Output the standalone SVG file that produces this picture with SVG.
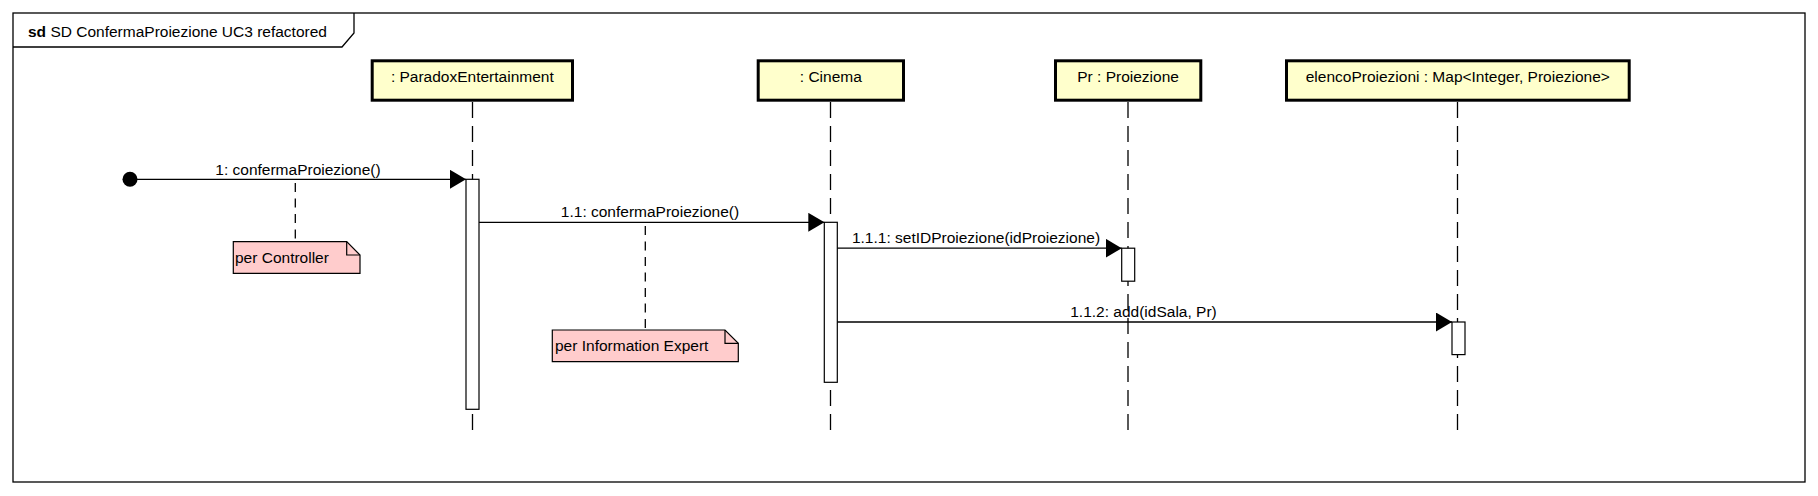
<svg xmlns="http://www.w3.org/2000/svg" width="1818" height="496" viewBox="0 0 1818 496">
<defs>
<style>
text{font-family:"Liberation Sans",Arial,sans-serif;font-size:15.5px;fill:#000}
.part rect{fill:#FFFFCC;stroke:#000;stroke-width:3}
.life{stroke:#000;stroke-width:1.3;stroke-dasharray:16 8;fill:none}
.act{fill:#fff;stroke:#000;stroke-width:1.2}
.msg{stroke:#000;stroke-width:1.3;fill:none}
.ncon{stroke:#000;stroke-width:1.3;stroke-dasharray:9 6.5;fill:none}
.note path{fill:#FFCCCC;stroke:#000;stroke-width:1.2}
.note .fold{fill:none}
.mid{text-anchor:middle}
</style>
<marker id="ah" viewBox="0 0 16 19" refX="16" refY="9.5" markerWidth="16" markerHeight="19" markerUnits="userSpaceOnUse" orient="auto">
<path d="M0,0 L16,9.5 L0,19 Z" fill="#000"/>
</marker>
</defs>
<rect width="1818" height="496" fill="#fff"/>
<g id="frame">
<rect x="13" y="13" width="1792" height="469" fill="none" stroke="#000" stroke-width="1.3"/>
<path d="M13,47 H342 L354,33 V13" fill="none" stroke="#000" stroke-width="1.3"/>
<text x="28" y="37"><tspan font-weight="bold">sd</tspan> SD ConfermaProiezione UC3 refactored</text>
</g>
<g id="lifelines">
<line class="life" x1="472.5" y1="102" x2="472.5" y2="438"/>
<line class="life" x1="830.5" y1="102" x2="830.5" y2="438"/>
<line class="life" x1="1128" y1="102" x2="1128" y2="438"/>
<line class="life" x1="1457.5" y1="102" x2="1457.5" y2="438"/>
</g>
<g id="p-paradox" class="part">
<rect x="372.2" y="60.8" width="200.3" height="39.4"/>
<text class="mid" x="472.3" y="82">: ParadoxEntertainment</text>
</g>
<g id="p-cinema" class="part">
<rect x="758.2" y="60.8" width="145.3" height="39.4"/>
<text class="mid" x="830.8" y="82">: Cinema</text>
</g>
<g id="p-proiezione" class="part">
<rect x="1055.5" y="60.8" width="145.3" height="39.4"/>
<text class="mid" x="1128.1" y="82">Pr : Proiezione</text>
</g>
<g id="p-elenco" class="part">
<rect x="1286.5" y="60.8" width="342.7" height="39.4"/>
<text class="mid" x="1457.8" y="82">elencoProiezioni : Map&lt;Integer, Proiezione&gt;</text>
</g>
<g id="activations">
<rect class="act" x="466" y="179.3" width="13" height="230"/>
<rect class="act" x="824.3" y="222.3" width="13" height="160"/>
<rect class="act" x="1121.7" y="248.2" width="13" height="33"/>
<rect class="act" x="1452" y="322" width="13" height="32.6"/>
</g>
<g id="connectors">
<circle cx="130" cy="179.3" r="7.5" fill="#000"/>
<line class="msg" x1="130" y1="179.3" x2="466" y2="179.3" marker-end="url(#ah)"/>
<text class="mid" x="298" y="174.5">1: confermaProiezione()</text>
<line class="msg" x1="479" y1="222.3" x2="824.3" y2="222.3" marker-end="url(#ah)"/>
<text class="mid" x="650" y="217.3">1.1: confermaProiezione()</text>
<line class="msg" x1="837.3" y1="248.2" x2="1121.7" y2="248.2" marker-end="url(#ah)"/>
<text class="mid" x="976" y="243">1.1.1: setIDProiezione(idProiezione)</text>
<line class="msg" x1="837.3" y1="322" x2="1452" y2="322" marker-end="url(#ah)"/>
<text class="mid" x="1143.5" y="317">1.1.2: add(idSala, Pr)</text>
<line class="ncon" x1="295.3" y1="183" x2="295.3" y2="241.7"/>
<line class="ncon" x1="645.3" y1="226" x2="645.3" y2="330"/>
</g>
<g id="note-controller" class="note">
<path d="M233.3,241.7 H346.7 L360,255 V273.3 H233.3 Z"/>
<path class="fold" d="M346.7,241.7 V255 H360"/>
<text x="235" y="262.7">per Controller</text>
</g>
<g id="note-expert" class="note">
<path d="M552.3,330 H725 L738.3,343.3 V361.7 H552.3 Z"/>
<path class="fold" d="M725,330 V343.3 H738.3"/>
<text x="555" y="350.7">per Information Expert</text>
</g>
</svg>
